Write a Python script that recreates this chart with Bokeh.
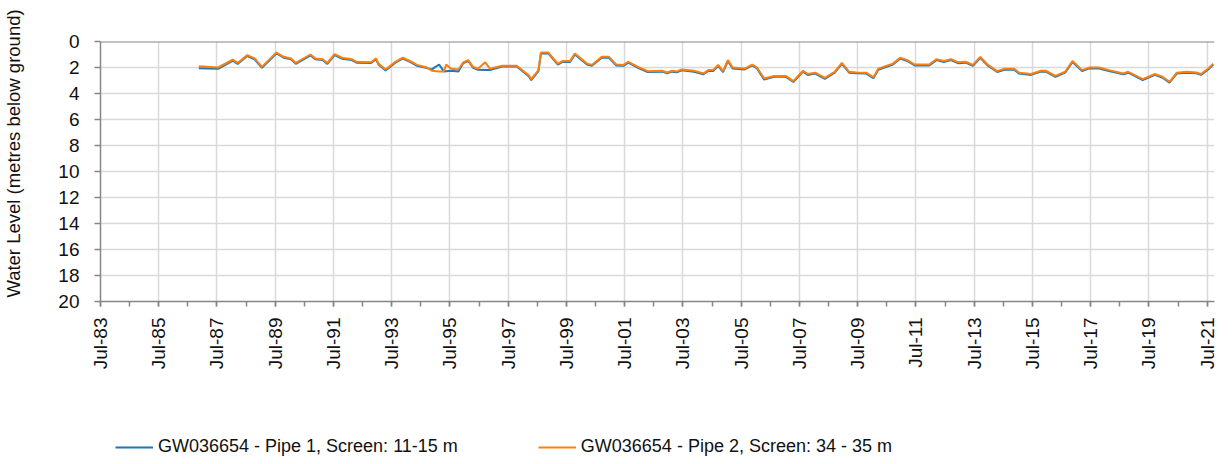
import math
import pandas as pd
from bokeh.plotting import figure
from bokeh.layouts import column
from bokeh.models import (Range1d, FixedTicker, DatetimeTickFormatter, Span, Legend,
                          LegendItem, ColumnDataSource)
from bokeh.embed import file_html
from bokeh.resources import INLINE

# ---- data ----
dates = ["1986-11", "1987-07", "1987-12", "1988-01", "1988-03", "1988-07", "1988-10",
         "1989-01", "1989-07", "1989-10", "1990-01", "1990-03", "1990-09", "1990-11",
         "1991-02", "1991-04", "1991-07", "1991-10", "1992-02", "1992-04", "1992-10",
         "1992-12", "1993-01", "1993-04", "1993-08", "1993-11", "1994-02", "1994-05",
         "1994-09", "1994-11", "1995-02", "1995-04", "1995-05", "1995-07", "1995-10",
         "1995-12", "1996-02", "1996-04", "1996-06", "1996-09", "1996-11", "1997-04",
         "1997-10", "1998-03", "1998-04", "1998-07", "1998-08", "1998-11", "1999-03",
         "1999-05", "1999-08", "1999-10", "2000-03", "2000-05", "2000-09", "2000-12",
         "2001-03", "2001-06", "2001-08", "2001-12", "2002-04", "2002-10", "2002-12",
         "2003-02", "2003-04", "2003-06", "2003-11", "2004-03", "2004-05", "2004-07",
         "2004-09", "2004-11", "2005-01", "2005-03", "2005-08", "2005-11", "2006-01",
         "2006-04", "2006-08", "2007-01", "2007-04", "2007-08", "2007-10", "2008-01",
         "2008-05", "2008-09", "2008-12", "2009-03", "2009-06", "2009-10", "2010-01",
         "2010-03", "2010-09", "2010-12", "2011-03", "2011-06", "2011-12", "2012-03",
         "2012-06", "2012-09", "2012-12", "2013-03", "2013-06", "2013-09", "2013-12",
         "2014-04", "2014-07", "2014-11", "2015-01", "2015-06", "2015-10", "2015-12",
         "2016-04", "2016-08", "2016-11", "2017-03", "2017-06", "2017-10", "2018-02",
         "2018-08", "2018-10", "2019-04", "2019-09", "2019-12", "2020-03", "2020-06",
         "2020-10", "2021-02", "2021-04", "2021-07", "2021-09"]

pipe2_level = [1.90, 2.00, 1.50, 1.40, 1.65, 1.05, 1.30,
               1.95, 0.85, 1.18, 1.30, 1.65, 1.00, 1.30,
               1.36, 1.65, 0.97, 1.25, 1.36, 1.56, 1.60,
               1.30, 1.70, 2.15, 1.56, 1.25, 1.50, 1.80,
               2.00, 2.25, 2.30, 2.30, 1.77, 2.10, 2.15,
               1.60, 1.43, 1.95, 2.10, 1.60, 2.10, 1.87,
               1.87, 2.60, 2.90, 2.20, 0.85, 0.85, 1.70,
               1.50, 1.50, 0.92, 1.70, 1.80, 1.18, 1.18,
               1.77, 1.80, 1.56, 1.95, 2.28, 2.25, 2.38,
               2.25, 2.30, 2.15, 2.25, 2.45, 2.20, 2.20,
               1.80, 2.28, 1.43, 2.00, 2.08, 1.77, 2.00,
               2.85, 2.65, 2.65, 3.05, 2.25, 2.50, 2.40,
               2.80, 2.33, 1.65, 2.33, 2.38, 2.40, 2.75,
               2.10, 1.70, 1.25, 1.43, 1.77, 1.77, 1.36,
               1.50, 1.36, 1.60, 1.56, 1.80, 1.18, 1.77,
               2.28, 2.10, 2.10, 2.40, 2.50, 2.25, 2.25,
               2.65, 2.33, 1.50, 2.20, 2.00, 2.00, 2.20,
               2.46, 2.33, 2.90, 2.50, 2.70, 3.10, 2.40,
               2.33, 2.38, 2.50, 2.08, 1.70]

pipe1_level = [2.05, 2.10, 1.58, 1.48, 1.72, 1.12, 1.38,
               2.03, 0.92, 1.25, 1.37, 1.72, 1.07, 1.36,
               1.43, 1.72, 1.04, 1.32, 1.43, 1.63, 1.66,
               1.37, 1.76, 2.22, 1.63, 1.32, 1.57, 1.87,
               2.05, 2.15, 1.77, 2.30, 2.28, 2.25, 2.30,
               1.66, 1.50, 2.02, 2.18, 2.20, 2.20, 1.93,
               1.93, 2.67, 2.97, 2.27, 0.92, 0.92, 1.77,
               1.57, 1.57, 0.99, 1.77, 1.87, 1.25, 1.25,
               1.84, 1.87, 1.63, 2.02, 2.35, 2.32, 2.45,
               2.32, 2.37, 2.22, 2.32, 2.52, 2.27, 2.27,
               1.87, 2.35, 1.50, 2.07, 2.15, 1.84, 2.07,
               2.93, 2.72, 2.72, 3.12, 2.32, 2.57, 2.47,
               2.87, 2.40, 1.72, 2.40, 2.45, 2.47, 2.82,
               2.17, 1.77, 1.32, 1.50, 1.84, 1.84, 1.43,
               1.57, 1.43, 1.67, 1.63, 1.87, 1.25, 1.84,
               2.35, 2.17, 2.17, 2.47, 2.57, 2.32, 2.32,
               2.72, 2.40, 1.57, 2.27, 2.07, 2.07, 2.27,
               2.53, 2.40, 2.97, 2.57, 2.77, 3.17, 2.47,
               2.40, 2.45, 2.57, 2.15, 1.77]

tick_years = list(range(1983, 2022, 2))
minor_years = list(range(1983, 2022))
y_ticks = list(range(0, 21, 2))
y_title = "Water Level (metres below ground)"
label_p1 = "GW036654 - Pipe 1, Screen: 11-15 m"
label_p2 = "GW036654 - Pipe 2, Screen: 34 - 35 m"

# ---- build ----
FONT = "Liberation Sans"
TXT = "#111111"
AX = "#868686"
GRID = "#d9d9d9"
C1 = "#1f77b4"
C2 = "#ff7f0e"
NB = "\u00a0"


def ms(ts):
    return pd.Timestamp(ts).value / 1e6


src = ColumnDataSource(dict(
    x=pd.to_datetime([d + "-15" for d in dates]),
    p1=pipe1_level,
    p2=pipe2_level,
))

p = figure(width=1224, height=373, x_axis_type="datetime",
           x_range=Range1d(ms("1983-07-01"), ms("2021-10-01")),
           y_range=Range1d(20, 0),
           output_backend="svg", toolbar_location=None,
           min_border_left=94, min_border_right=10,
           min_border_top=41, min_border_bottom=72)
p.title.text = ""
p.outline_line_color = None

p.line("x", "p1", source=src, line_color=C1, line_width=2)
p.line("x", "p2", source=src, line_color=C2, line_width=2)

# x axis
xa = p.xaxis[0]
xa.ticker = FixedTicker(ticks=[ms(f"{y}-07-01") for y in tick_years],
                        minor_ticks=[ms(f"{y}-07-01") for y in minor_years])
fmt = "%b-%y"
xa.formatter = DatetimeTickFormatter(years=fmt, months=fmt, days=fmt, hours=fmt,
                                     minutes=fmt, seconds=fmt, milliseconds=fmt,
                                     microseconds=fmt, minsec=fmt, hourmin=fmt)
xa.major_label_orientation = math.pi / 2
xa.major_label_text_font = FONT
xa.major_label_text_font_size = "19px"
xa.major_label_text_color = TXT
xa.major_label_standoff = 11
xa.axis_line_color = AX
xa.axis_line_width = 1.5
xa.major_tick_line_color = AX
xa.minor_tick_line_color = AX
xa.major_tick_line_width = 1.5
xa.minor_tick_line_width = 1.5
xa.major_tick_in = 0
xa.major_tick_out = 5
xa.minor_tick_in = 0
xa.minor_tick_out = 5

# y axis
ya = p.yaxis[0]
ya.ticker = FixedTicker(ticks=y_ticks)
ya.major_label_text_font = FONT
ya.major_label_text_font_size = "19px"
ya.major_label_text_color = TXT
ya.major_label_standoff = 15
ya.axis_line_color = AX
ya.axis_line_width = 1.5
ya.major_tick_line_color = AX
ya.major_tick_line_width = 1.5
ya.major_tick_in = 0
ya.major_tick_out = 6
ya.minor_tick_line_color = None
# leading no-break spaces move the (centred) title up towards the top, as in the reference
ya.axis_label = NB * 7 + y_title
ya.axis_label_text_font = FONT
ya.axis_label_text_font_size = "18.5px"
ya.axis_label_text_font_style = "normal"
ya.axis_label_text_color = TXT
ya.axis_label_standoff = 31

p.xgrid.grid_line_color = GRID
p.ygrid.grid_line_color = GRID
p.xgrid.grid_line_width = 1.5
p.ygrid.grid_line_width = 1.5

p.add_layout(Span(location=0, dimension="width", line_color=AX, line_width=2))

# ---- legend strip below the chart ----
lg = figure(width=1224, height=87, x_range=Range1d(0, 1), y_range=Range1d(0, 1),
            output_backend="svg", toolbar_location=None,
            x_axis_location=None, y_axis_location=None,
            min_border_left=94, min_border_right=10, min_border_top=0, min_border_bottom=0)
lg.outline_line_color = None
lg.xgrid.visible = False
lg.ygrid.visible = False
k1 = lg.line(x=[float("nan")], y=[float("nan")], line_color=C1, line_width=2)
k2 = lg.line(x=[float("nan")], y=[float("nan")], line_color=C2, line_width=2)

legend = Legend(items=[LegendItem(label=label_p1, renderers=[k1]),
                       LegendItem(label=label_p2, renderers=[k2])],
                orientation="horizontal", location=(15, 3),
                glyph_width=38, glyph_height=20, label_standoff=5, spacing=80,
                padding=0, margin=0, border_line_color=None,
                background_fill_alpha=0,
                label_text_font=FONT, label_text_font_size="18px",
                label_text_color=TXT)
lg.add_layout(legend, "center")

layout = column(p, lg, spacing=0)
open("out.html", "w").write(file_html(layout, INLINE))
